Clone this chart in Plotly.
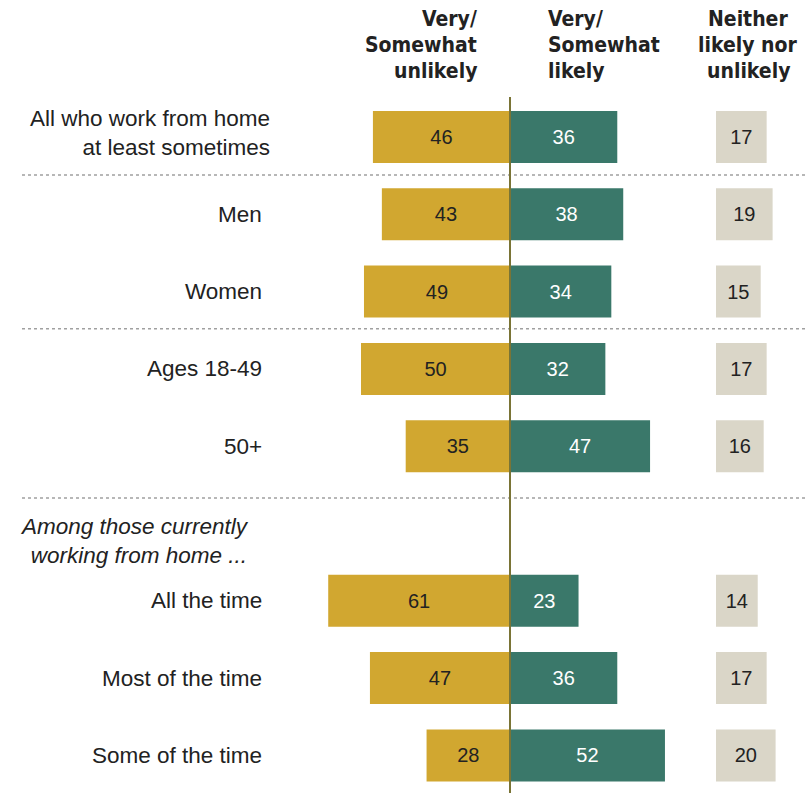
import plotly.graph_objects as go

# ---- data ----
categories = ["All who work from home<br>at least sometimes", "Men", "Women", "Ages 18-49", "50+",
              "All the time", "Most of the time", "Some of the time"]
unlikely = [46, 43, 49, 50, 35, 61, 47, 28]
likely = [36, 38, 34, 32, 47, 23, 36, 52]
neither = [17, 19, 15, 17, 16, 14, 17, 20]
subheader = "<i>Among those currently<br>working from home ...</i>"
headers = {
    "unlikely": ["Very/", "Somewhat", "unlikely"],
    "likely": ["Very/", "Somewhat", "likely"],
    "neither": ["Neither", "likely nor", "unlikely"],
}

# ---- layout helpers ----
W, H = 805, 793
GOLD = "#D1A730"
TEAL = "#3A786A"
BEIGE = "#DAD6C8"
LINE = "#7A7436"
FONT = "Liberation Sans, Arial, sans-serif"
HFONT = "DejaVu Sans Condensed, Liberation Sans Narrow, Arial Narrow, sans-serif"

# row positions (gap before the "Among those..." group)
ypos = [0, 1, 2, 3, 4, 6, 7, 8]
row_px = 77.3
top_px = 137
y_range = [(H - top_px) / row_px, -top_px / row_px]  # reversed
px_per_unit = 2.98
x_range = [-510 / px_per_unit, (W - 510) / px_per_unit]
neither_base = (716 - 510) / px_per_unit
bar_w = 52 / row_px

fig = go.Figure()
fig.add_trace(go.Bar(
    y=ypos, x=[-v for v in unlikely], orientation="h", width=bar_w,
    marker=dict(color=GOLD, line=dict(width=0)),
    text=[str(v) for v in unlikely], textposition="inside", insidetextanchor="middle",
    textangle=0, textfont=dict(color="#222222", size=20, family=FONT), hoverinfo="skip"))
fig.add_trace(go.Bar(
    y=ypos, x=likely, orientation="h", width=bar_w,
    marker=dict(color=TEAL, line=dict(width=0)),
    text=[str(v) for v in likely], textposition="inside", insidetextanchor="middle",
    textangle=0, textfont=dict(color="white", size=20, family=FONT), hoverinfo="skip"))
fig.add_trace(go.Bar(
    y=ypos, x=neither, base=neither_base, orientation="h", width=bar_w,
    marker=dict(color=BEIGE, line=dict(width=0)),
    text=[str(v) for v in neither], textposition="inside", insidetextanchor="middle",
    textangle=0, textfont=dict(color="#222222", size=20, family=FONT), hoverinfo="skip"))

annotations = []
# row labels
for lab, y in zip(categories, ypos):
    multi = "<br>" in lab
    xr = 272 if multi else 264
    annotations.append(dict(x=xr / W, xref="paper", y=(y - 0.05) if multi else y, yref="y", text=lab,
                            showarrow=False, xanchor="right", yanchor="middle", align="right",
                            font=dict(size=22.5, color="#222222", family=FONT)))
annotations.append(dict(x=251 / W, xref="paper", y=5.23, yref="y", text=subheader,
                        showarrow=False, xanchor="right", yanchor="middle", align="right",
                        font=dict(size=22.5, color="#222222", family=FONT)))

# headers (one annotation per line)
line_y = [19, 45, 71]
for i, t in enumerate(headers["unlikely"]):
    annotations.append(dict(x=479 / W, xref="paper", y=1 - line_y[i] / H, yref="paper", text="<b>%s</b>" % t,
                            showarrow=False, xanchor="right", yanchor="middle",
                            font=dict(size=21, color="#222222", family=HFONT)))
for i, t in enumerate(headers["likely"]):
    annotations.append(dict(x=546 / W, xref="paper", y=1 - line_y[i] / H, yref="paper", text="<b>%s</b>" % t,
                            showarrow=False, xanchor="left", yanchor="middle",
                            font=dict(size=21, color="#222222", family=HFONT)))
for i, t in enumerate(headers["neither"]):
    annotations.append(dict(x=748 / W, xref="paper", y=1 - line_y[i] / H, yref="paper", text="<b>%s</b>" % t,
                            showarrow=False, xanchor="center", yanchor="middle",
                            font=dict(size=21, color="#222222", family=HFONT)))

shapes = []
for sy in [0.49, 2.48, 4.67]:
    shapes.append(dict(type="line", xref="paper", x0=22 / W, x1=1, yref="y", y0=sy, y1=sy,
                       line=dict(color="#a0a0a0", width=1.5, dash="dot")))
shapes.append(dict(type="line", xref="x", x0=0, x1=0, yref="paper", y0=0, y1=1 - 97 / H,
                   line=dict(color=LINE, width=2), layer="above"))

fig.update_layout(
    width=W, height=H, margin=dict(l=0, r=0, t=0, b=0),
    paper_bgcolor="white", plot_bgcolor="white",
    barmode="overlay", showlegend=False,
    xaxis=dict(range=x_range, visible=False, fixedrange=True),
    yaxis=dict(range=y_range, visible=False, fixedrange=True),
    annotations=annotations, shapes=shapes,
    uniformtext=dict(minsize=20, mode="show"),
)
fig.write_html("out.html", config={"displayModeBar": False},
               post_script="document.body.style.margin='0px';document.body.style.overflow='hidden';")
